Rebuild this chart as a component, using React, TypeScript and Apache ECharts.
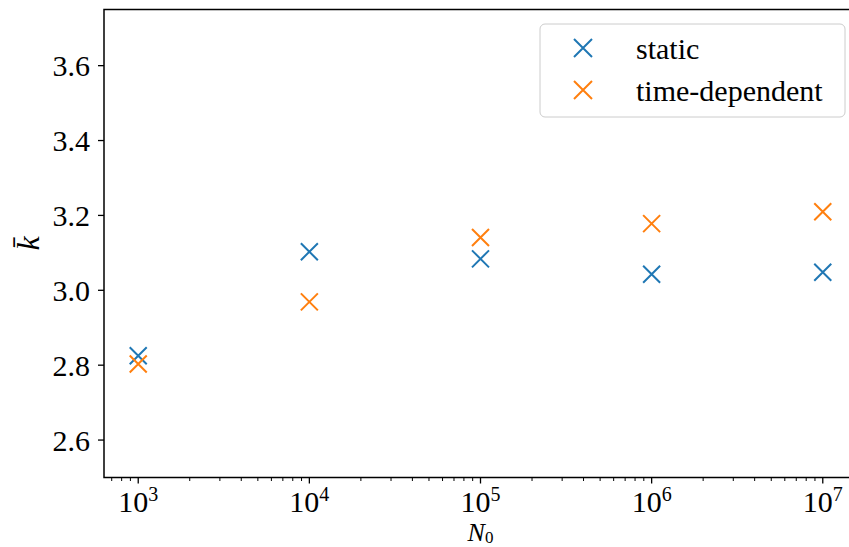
import React, { useEffect, useRef } from "react";
import * as echarts from "echarts";

// ---- data ----
const seriesNames = ["static", "time-dependent"];
const nValues = [1e3, 1e4, 1e5, 1e6, 1e7];
const staticK = [2.825, 3.103, 3.084, 3.043, 3.048];
const timeDepK = [2.803, 2.969, 3.141, 3.178, 3.21];
const seriesColors = ["#1f77b4", "#ff7f0e"];

// ---- ticks ----
const xMajorTicks = [1e3, 1e4, 1e5, 1e6, 1e7];
const xMinorTicks = [
  700, 800, 900,
  2e3, 3e3, 4e3, 5e3, 6e3, 7e3, 8e3, 9e3,
  2e4, 3e4, 4e4, 5e4, 6e4, 7e4, 8e4, 9e4,
  2e5, 3e5, 4e5, 5e5, 6e5, 7e5, 8e5, 9e5,
  2e6, 3e6, 4e6, 5e6, 6e6, 7e6, 8e6, 9e6,
];
const yTicks = [2.6, 2.8, 3.0, 3.2, 3.4, 3.6];

const FONT = "'Liberation Serif', 'Times New Roman', serif";

export default function App() {
  const ref = useRef<HTMLDivElement>(null);

  useEffect(() => {
    if (!ref.current) return;
    const chart = echarts.init(ref.current, undefined, { renderer: "svg" });

    const tickData = [
      ...xMajorTicks.map((v) => [v, 0]),
      ...xMinorTicks.map((v) => [v, 1]),
      ...yTicks.map((v) => [v, 2]),
    ];

    const xSym = "path://M0,0L10,10M10,0L0,10";

    const option: any = {
      animation: false,
      grid: {
        left: 104,
        top: 9.5,
        width: 753,
        height: 468,
        show: true,
        borderColor: "#000",
        borderWidth: 1.5,
        backgroundColor: "transparent",
        containLabel: false,
        outerBoundsMode: "none",
      },
      legend: {
        data: seriesNames,
        orient: "vertical",
        left: 540,
        top: 24,
        padding: [9, 14, 12, 33],
        itemWidth: 18,
        itemHeight: 18,
        itemGap: 12,
        backgroundColor: "rgba(255,255,255,0.8)",
        borderColor: "#cccccc",
        borderWidth: 1,
        borderRadius: 5,
        textStyle: {
          fontFamily: FONT,
          fontSize: 30,
          color: "#000",
          lineHeight: 30,
          padding: [0, 0, 0, 39],
          width: 195,
        },
      },
      xAxis: {
        type: "log",
        logBase: 10,
        min: Math.pow(10, 2.8),
        max: Math.pow(10, 7.2),
        splitLine: { show: false },
        axisLine: { show: false },
        axisTick: { show: false },
        minorTick: { show: false },
        axisLabel: {
          margin: 8.5,
          formatter: (v: number) => {
            const e = Math.log10(v);
            const r = Math.round(e);
            if (Math.abs(e - r) > 1e-6) return "";
            return `{b|10}{s|${r}}`;
          },
          rich: {
            b: { fontFamily: FONT, fontSize: 30, color: "#000", height: 30, lineHeight: 30, verticalAlign: "bottom" },
            s: { fontFamily: FONT, fontSize: 20, color: "#000", height: 16, verticalAlign: "top" },
          },
        },
        name: "{i|N}{s|0}",
        nameLocation: "middle",
        nameGap: 42.5,
        nameMoveOverlap: false,
        nameTextStyle: {
          rich: {
            i: { fontFamily: FONT, fontStyle: "italic", fontSize: 26, color: "#000", height: 24, lineHeight: 24, verticalAlign: "top" },
            s: { fontFamily: FONT, fontSize: 17, color: "#000", height: 14, verticalAlign: "bottom" },
          },
        },
      },
      yAxis: {
        type: "value",
        min: 2.5,
        max: 3.75,
        splitNumber: 6,
        splitLine: { show: false },
        axisLine: { show: false },
        axisTick: { show: false },
        axisLabel: {
          margin: 14,
          fontFamily: FONT,
          fontSize: 30,
          color: "#000",
          formatter: (v: number) => {
            if (Math.abs(v * 5 - Math.round(v * 5)) > 1e-6) return "";
            return v.toFixed(1);
          },
        },
        name: "k\u0304",
        nameLocation: "middle",
        nameRotate: 90,
        nameGap: 60,
        nameMoveOverlap: false,
        nameTextStyle: {
          fontFamily: FONT,
          fontStyle: "italic",
          fontSize: 32,
          color: "#000",
        },
      },
      series: [
        {
          type: "scatter",
          name: seriesNames[0],
          data: nValues.map((n, i) => [n, staticK[i]]),
          symbol: xSym,
          symbolSize: 17,
          itemStyle: { color: "rgba(0,0,0,0)", borderColor: seriesColors[0], borderWidth: 2, opacity: 1 },
          z: 3,
        },
        {
          type: "scatter",
          name: seriesNames[1],
          data: nValues.map((n, i) => [n, timeDepK[i]]),
          symbol: xSym,
          symbolSize: 17,
          itemStyle: { color: "rgba(0,0,0,0)", borderColor: seriesColors[1], borderWidth: 2, opacity: 1 },
          z: 4,
        },
        {
          type: "custom",
          silent: true,
          clip: false,
          z: 5,
          data: tickData,
          encode: { x: 0, y: 1 },
          renderItem: (params: any, api: any) => {
            const v = api.value(0);
            const kind = api.value(1);
            const cs = params.coordSys;
            if (kind === 2) {
              const py = api.coord([1e3, v])[1];
              return {
                type: "line",
                shape: { x1: cs.x - 6, y1: py, x2: cs.x, y2: py },
                style: { stroke: "#000", lineWidth: 1.3 },
              };
            }
            const px = api.coord([v, 3])[0];
            const y0 = cs.y + cs.height;
            const len = kind === 0 ? 6 : 3.5;
            return {
              type: "line",
              shape: { x1: px, y1: y0, x2: px, y2: y0 + len },
              style: { stroke: "#000", lineWidth: kind === 0 ? 1.3 : 1 },
            };
          },
        },
      ],
    };

    chart.setOption(option);
    return () => chart.dispose();
  }, []);

  return (
    <div
      ref={ref}
      style={{ position: "fixed", left: 0, top: 0, width: 849, height: 547, background: "#fff" }}
    />
  );
}
